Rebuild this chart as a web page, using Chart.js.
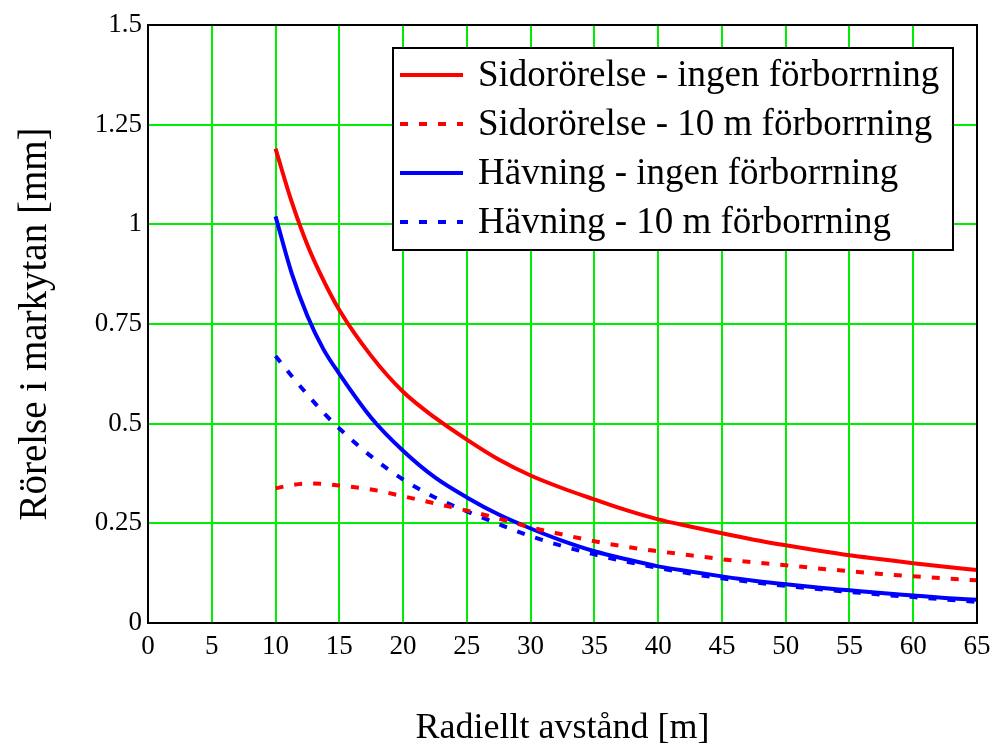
<!DOCTYPE html>
<html>
<head>
<meta charset="utf-8">
<script src="https://cdn.jsdelivr.net/npm/chart.js@4/dist/chart.umd.min.js"></script>
<style>
  html, body { margin: 0; padding: 0; background: #fff; }
  #wrap { width: 1000px; height: 744px; }
</style>
</head>
<body>
<div id="wrap"><canvas id="chart"></canvas></div>
<script>
// avstånd [m]
const distances = [10, 11.25, 12.5, 13.75, 15, 17.5, 20, 22.5, 25, 27.5, 30, 32.5, 35, 37.5, 40, 42.5, 45, 47.5, 50, 52.5, 55, 57.5, 60, 62.5, 65];
// rörelse [mm]
const sidoIngen = [1.19, 1.058, 0.948, 0.86, 0.785, 0.67, 0.58, 0.515, 0.46, 0.41, 0.37, 0.338, 0.31, 0.283, 0.26, 0.242, 0.225, 0.209, 0.195, 0.182, 0.17, 0.16, 0.15, 0.141, 0.133];
const sido10m = [0.338, 0.346, 0.35, 0.349, 0.345, 0.335, 0.318, 0.3, 0.282, 0.262, 0.24, 0.222, 0.205, 0.191, 0.18, 0.17, 0.16, 0.152, 0.145, 0.137, 0.13, 0.123, 0.117, 0.112, 0.107];
const havIngen = [1.02, 0.879, 0.77, 0.687, 0.625, 0.515, 0.432, 0.365, 0.315, 0.272, 0.237, 0.206, 0.18, 0.16, 0.142, 0.129, 0.117, 0.106, 0.097, 0.089, 0.082, 0.075, 0.069, 0.063, 0.058];
const hav10m = [0.67, 0.62, 0.573, 0.528, 0.488, 0.418, 0.36, 0.315, 0.28, 0.248, 0.218, 0.193, 0.172, 0.154, 0.138, 0.124, 0.112, 0.102, 0.093, 0.085, 0.078, 0.071, 0.065, 0.059, 0.053];

const xTicks = ["0", "5", "10", "15", "20", "25", "30", "35", "40", "45", "50", "55", "60", "65"];
const yTicks = ["0", "0.25", "0.5", "0.75", "1", "1.25", "1.5"];

const labels = [
  "Sidorörelse - ingen förborrning",
  "Sidorörelse - 10 m förborrning",
  "Hävning - ingen förborrning",
  "Hävning - 10 m förborrning",
];

const serif = "'Liberation Serif', 'DejaVu Serif', serif";

function toPoints(arr) {
  return distances.map((d, i) => ({ x: d, y: arr[i] }));
}

function series(label, values, color, dashed) {
  return {
    label: label,
    data: toPoints(values),
    borderColor: color,
    backgroundColor: color,
    borderWidth: 4,
    borderDash: dashed ? [8, 11] : [],
    pointRadius: 0,
    cubicInterpolationMode: "monotone",
    fill: false,
  };
}

// ram runt diagramytan + förklaring i rutan
const framePlugin = {
  id: "frame",
  afterDatasetsDraw(chart) {
    const { ctx, chartArea: a } = chart;
    ctx.save();
    ctx.strokeStyle = "#000";
    ctx.lineWidth = 2;
    ctx.strokeRect(a.left, a.top, a.right - a.left, a.bottom - a.top);

    // legend box
    const bx = 393, by = 48, bw = 560, bh = 202;
    ctx.fillStyle = "#fff";
    ctx.fillRect(bx, by, bw, bh);
    ctx.strokeRect(bx, by, bw, bh);
    ctx.font = "37px " + serif;
    ctx.textBaseline = "middle";
    chart.data.datasets.forEach((ds, i) => {
      const yy = by + 27 + i * 49;
      ctx.beginPath();
      ctx.strokeStyle = ds.borderColor;
      ctx.lineWidth = 4;
      ctx.setLineDash(ds.borderDash);
      ctx.moveTo(bx + 7, yy);
      ctx.lineTo(bx + 70, yy);
      ctx.stroke();
      ctx.setLineDash([]);
      ctx.fillStyle = "#000";
      ctx.fillText(ds.label, bx + 85, yy + 1);
    });
    ctx.restore();
  },
};

new Chart(document.getElementById("chart"), {
  type: "line",
  data: {
    datasets: [
      series(labels[0], sidoIngen, "#ff0000", false),
      series(labels[1], sido10m, "#ff0000", true),
      series(labels[2], havIngen, "#0000ff", false),
      series(labels[3], hav10m, "#0000ff", true),
    ],
  },
  options: {
    responsive: true,
    maintainAspectRatio: false,
    animation: false,
    layout: { padding: { top: 25, right: 23, left: 0, bottom: 0 } },
    plugins: {
      legend: { display: false },
      tooltip: { enabled: false },
    },
    scales: {
      x: {
        type: "linear",
        min: 0,
        max: 65,
        afterFit: (s) => { s.height = 121; },
        ticks: {
          stepSize: 5,
          color: "#000",
          font: { family: serif, size: 27 },
          padding: 8,
          maxRotation: 0,
          callback: (v) => xTicks[Math.round(v / 5)],
        },
        grid: { color: "#00ee00", lineWidth: 2, drawTicks: false },
        border: { display: false },
        title: {
          display: true,
          text: "Radiellt avstånd [m]",
          color: "#000",
          font: { family: serif, size: 36 },
          padding: { top: 0, bottom: -6 },
        },
      },
      y: {
        min: 0,
        max: 1.5,
        afterFit: (s) => { s.width = 148; },
        ticks: {
          stepSize: 0.25,
          color: "#000",
          font: { family: serif, size: 27 },
          padding: 6,
          callback: (v) => yTicks[Math.round(v / 0.25)],
        },
        grid: { color: "#00ee00", lineWidth: 2, drawTicks: false },
        border: { display: false },
        title: {
          display: true,
          text: "Rörelse i markytan [mm]",
          color: "#000",
          font: { family: serif, size: 39 },
          padding: { top: 12, bottom: 0 },
        },
      },
    },
  },
  plugins: [framePlugin],
});
</script>
</body>
</html>
